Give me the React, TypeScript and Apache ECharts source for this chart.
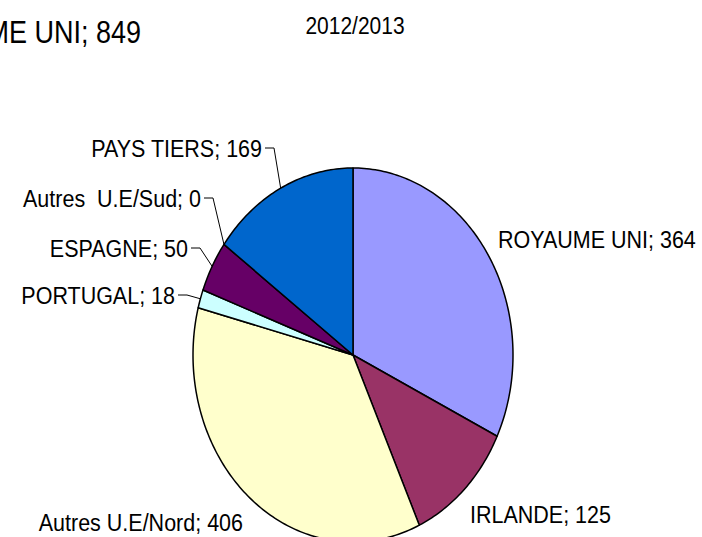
import React, { useEffect, useRef } from "react";
import * as echarts from "echarts";

const categories = ["ROYAUME UNI", "IRLANDE", "Autres U.E/Nord", "PORTUGAL", "ESPAGNE", "Autres  U.E/Sud", "PAYS TIERS"];
const values = [364, 125, 406, 18, 50, 0, 169];
const sliceColors = ["#9999FF", "#993366", "#FFFFCC", "#CCFFFF", "#660066", "#FF8080", "#0066CC"];
const periodTitle = "2012/2013";
const totalCategory = "ROYAUME UNI";
const totalValue = 849;

// label layout: anchor (x, y = text middle), alignment, leader line
const labelLayout = [
  { x: 498, y: 239, align: "left", leader: false },
  { x: 470, y: 514, align: "left", leader: false },
  { x: 243, y: 522, align: "right", leader: false },
  { x: 175, y: 295, align: "right", leader: true },
  { x: 188, y: 248, align: "right", leader: true },
  { x: 201, y: 198, align: "right", leader: true },
  { x: 262, y: 148, align: "right", leader: true },
];

const CX = 353;
const CY = 355;
const RX = 160;
const RY = 187;
const FONT = "Liberation Sans, Arial, sans-serif";
const FS = 21.5;
const SY = 1.15;

const total = values.reduce((a, b) => a + b, 0);

function edgePoint(theta: number): number[] {
  return [CX + RX * Math.sin(theta), CY - RY * Math.cos(theta)];
}

export default function App() {
  const ref = useRef<HTMLDivElement>(null);
  useEffect(() => {
    if (!ref.current) return;
    const chart = echarts.init(ref.current, null, { renderer: "svg" });
    const renderItem = (params: any, api: any) => {
      const i = params.dataIndex;
      const v = api.value(1);
      let cum = 0;
      for (let k = 0; k < i; k++) cum += values[k];
      const a0 = (cum / total) * Math.PI * 2;
      const a1 = ((cum + v) / total) * Math.PI * 2;
      const mid = (a0 + a1) / 2;
      const children: any[] = [];
      if (v > 0) {
        const pts: number[][] = [[CX, CY]];
        const steps = Math.max(2, Math.ceil(((a1 - a0) * 180) / Math.PI));
        for (let s = 0; s <= steps; s++) {
          pts.push(edgePoint(a0 + ((a1 - a0) * s) / steps));
        }
        children.push({
          type: "polygon",
          shape: { points: pts },
          style: { fill: sliceColors[i], stroke: "#000", lineWidth: 1.5, lineJoin: "round" },
        });
      }
      const L = labelLayout[i];
      const text = categories[i] + "; " + v;
      children.push({
        type: "text",
        x: L.x,
        y: L.y,
        scaleY: SY,
        style: {
          text,
          x: 0,
          y: 0,
          fill: "#000",
          font: `${FS}px ${FONT}`,
          align: L.align,
          verticalAlign: "middle",
          textAlign: L.align,
          textVerticalAlign: "middle",
        },
      });
      if (L.leader) {
        const e = edgePoint(mid);
        children.push({
          type: "polyline",
          shape: { points: [[L.x + 3, L.y], [L.x + 12, L.y], e] },
          style: { stroke: "#000", lineWidth: 1, fill: null },
        });
      }
      return { type: "group", children };
    };
    chart.setOption({
      animation: false,
      backgroundColor: "#ffffff",
      graphic: [
        {
          type: "text",
          x: 355,
          y: 26,
          scaleY: SY,
          style: {
            text: periodTitle,
            fill: "#000",
            font: `21px ${FONT}`,
            align: "center",
            verticalAlign: "middle",
            textAlign: "center",
            textVerticalAlign: "middle",
          },
        },
        {
          type: "text",
          x: 141,
          y: 32,
          scaleY: SY,
          style: {
            text: totalCategory + "; " + totalValue,
            fill: "#000",
            font: `27px ${FONT}`,
            align: "right",
            verticalAlign: "middle",
            textAlign: "right",
            textVerticalAlign: "middle",
          },
        },
      ],
      series: [
        {
          type: "custom",
          coordinateSystem: "none",
          renderItem,
          data: values.map((v, i) => [i, v]),
        },
      ],
    });
    return () => chart.dispose();
  }, []);
  return <div ref={ref} style={{ position: "fixed", left: 0, top: 0, width: 702, height: 537 }} />;
}
